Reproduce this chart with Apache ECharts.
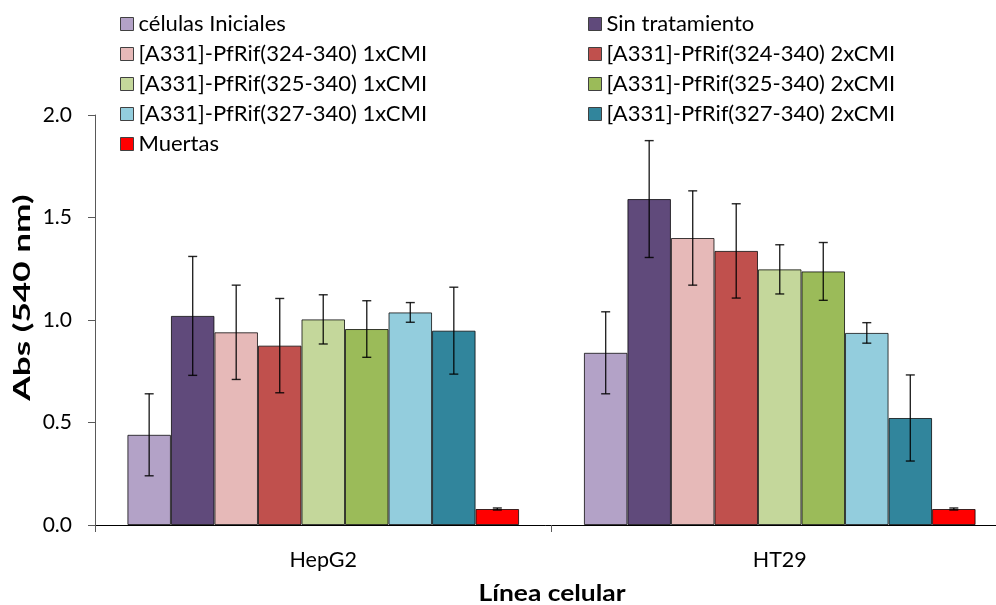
<!DOCTYPE html>
<html>
<head>
<meta charset="utf-8">
<script src="https://cdn.jsdelivr.net/npm/echarts@6/dist/echarts.min.js"></script>
<style>
  html, body { margin: 0; padding: 0; background: #fff; }
  #chart { width: 996px; height: 605px; }
</style>
</head>
<body>
<div id="chart"></div>
<script>
// Cell lines on the x axis
const categories = ['HepG2', 'HT29'];

// Series names, in drawing order
const seriesNames = [
  'células Iniciales',
  'Sin tratamiento',
  '[A331]-PfRif(324-340) 1xCMI',
  '[A331]-PfRif(324-340) 2xCMI',
  '[A331]-PfRif(325-340) 1xCMI',
  '[A331]-PfRif(325-340) 2xCMI',
  '[A331]-PfRif(327-340) 1xCMI',
  '[A331]-PfRif(327-340) 2xCMI',
  'Muertas'
];

// Mean absorbance at 540 nm (HepG2, HT29)
const celulasIniciales = [0.44, 0.84];
const sinTratamiento   = [1.02, 1.59];
const pep324x1 = [0.94, 1.40];
const pep324x2 = [0.875, 1.337];
const pep325x1 = [1.003, 1.247];
const pep325x2 = [0.956, 1.237];
const pep327x1 = [1.037, 0.937];
const pep327x2 = [0.948, 0.522];
const muertas  = [0.078, 0.078];

// Standard deviations (HepG2, HT29)
const errCelulas = [0.20, 0.20];
const errSin     = [0.29, 0.285];
const err324x1   = [0.23, 0.23];
const err324x2   = [0.23, 0.23];
const err325x1   = [0.12, 0.12];
const err325x2   = [0.138, 0.141];
const err327x1   = [0.048, 0.05];
const err327x2   = [0.212, 0.21];
const errMuertas = [0.005, 0.005];

// Y axis ticks
const yTicks = { min: 0, max: 2, interval: 0.5 };

const means = [celulasIniciales, sinTratamiento, pep324x1, pep324x2, pep325x1, pep325x2, pep327x1, pep327x2, muertas];
const errs  = [errCelulas, errSin, err324x1, err324x2, err325x1, err325x2, err327x1, err327x2, errMuertas];
const colors = ['#B3A2C7', '#604A7B', '#E6B9B8', '#C0504D', '#C4D79B', '#9BBB59', '#93CDDD', '#31859C', '#FF0000'];

const FONT = 'Lato';
const GAP = 0.142; // barCategoryGap as a ratio
const N = seriesNames.length;

const barSeries = seriesNames.map((name, i) => ({
  name: name,
  type: 'bar',
  data: means[i],
  barGap: '0%',
  barCategoryGap: (GAP * 100) + '%',
  itemStyle: { color: colors[i], borderColor: 'rgba(0,0,0,0.75)', borderWidth: 1 },
  emphasis: { disabled: true },
  z: 2
}));

// Error-bar rows: [category, series, low, high]
const errRows = [];
means.forEach((m, s) => {
  m.forEach((v, c) => {
    errRows.push([c, s, v - errs[s][c], v + errs[s][c]]);
  });
});

const errorSeries = {
  type: 'custom',
  name: 'error',
  data: errRows,
  encode: { x: 0, y: [2, 3] },
  z: 5,
  silent: true,
  renderItem: function (params, api) {
    const cat = api.value(0);
    const s = api.value(1);
    const band = api.size([1, 0])[0];
    const bw = band * (1 - GAP) / N;
    const cx = api.coord([cat, 0])[0] + (s - (N - 1) / 2) * bw;
    const yLow = api.coord([cat, api.value(2)])[1];
    const yHigh = api.coord([cat, api.value(3)])[1];
    const half = 4.5;
    const style = { stroke: 'rgba(0,0,0,0.85)', lineWidth: 1.4 };
    return {
      type: 'group',
      children: [
        { type: 'line', shape: { x1: cx, y1: yHigh, x2: cx, y2: yLow }, style: style },
        { type: 'line', shape: { x1: cx - half, y1: yHigh, x2: cx + half, y2: yHigh }, style: style },
        { type: 'line', shape: { x1: cx - half, y1: yLow, x2: cx + half, y2: yLow }, style: style }
      ]
    };
  }
};

const legendText = { fontFamily: FONT, fontSize: 22, color: '#000', lineHeight: 22 };
const legendBase = {
  orient: 'vertical',
  icon: 'rect',
  itemWidth: 13,
  itemHeight: 13,
  itemGap: 8,
  padding: 0,
  selectedMode: false,
  textStyle: legendText,
  itemStyle: { borderColor: '#404040', borderWidth: 1 }
};

const chart = echarts.init(document.getElementById('chart'), null, { renderer: 'canvas' });
chart.setOption({
  animation: false,
  backgroundColor: '#fff',
  legend: [
    Object.assign({}, legendBase, {
      left: 120, top: 13,
      data: [seriesNames[0], seriesNames[2], seriesNames[4], seriesNames[6], seriesNames[8]]
    }),
    Object.assign({}, legendBase, {
      left: 588, top: 13,
      data: [seriesNames[1], seriesNames[3], seriesNames[5], seriesNames[7]]
    })
  ],
  grid: { left: 95, width: 913, top: 115, bottom: 80, containLabel: false, outerBoundsMode: 'none' },
  xAxis: {
    type: 'category',
    data: categories,
    axisLine: { show: true, lineStyle: { color: '#000', width: 1 } },
    axisTick: { show: true, interval: 0, length: 7, lineStyle: { color: '#595959' } },
    axisLabel: { fontFamily: FONT, fontSize: 21.5, color: '#000', margin: 24 }
  },
  yAxis: {
    type: 'value',
    min: yTicks.min,
    max: yTicks.max,
    interval: yTicks.interval,
    splitLine: { show: false },
    axisLine: { show: true, lineStyle: { color: '#595959', width: 1 } },
    axisTick: { show: true, length: 7, lineStyle: { color: '#595959' } },
    axisLabel: {
      fontFamily: FONT, fontSize: 21, color: '#000', margin: 23,
      formatter: function (v) { return v.toFixed(1); }
    }
  },
  graphic: [
    {
      // y axis title
      type: 'text',
      x: 23,
      y: 297.5,
      rotation: Math.PI / 2,
      scaleX: 1.6,
      style: {
        text: 'Abs (540 nm)',
        fontFamily: FONT,
        fontSize: 22,
        fontWeight: 'bold',
        fill: '#000',
        align: 'center',
        verticalAlign: 'middle'
      }
    },
    {
      // x axis title
      type: 'text',
      x: 552,
      y: 594,
      scaleX: 1.2,
      style: {
        text: 'Línea celular',
        fontFamily: FONT,
        fontSize: 22,
        fontWeight: 'bold',
        fill: '#000',
        align: 'center',
        verticalAlign: 'middle'
      }
    }
  ],
  series: barSeries.concat([errorSeries])
});
</script>
</body>
</html>
